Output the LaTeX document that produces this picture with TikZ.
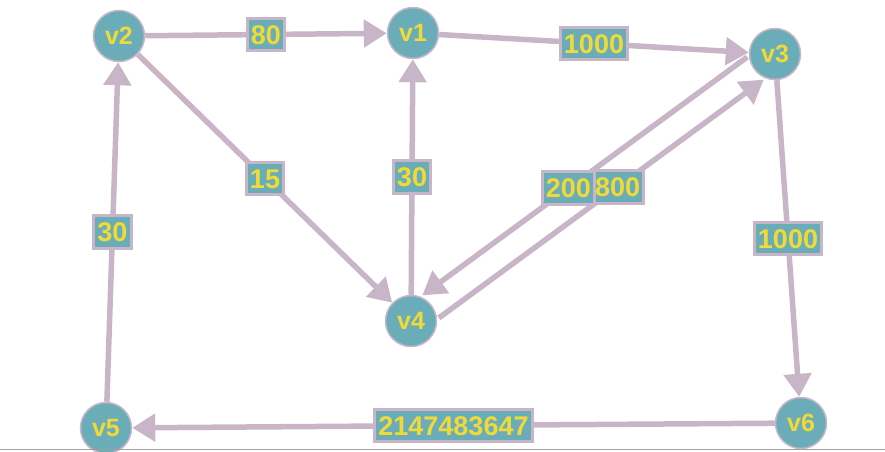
\documentclass[tikz,border=0pt]{standalone}
\usepackage{fontspec}
\setmainfont{Liberation Sans}
\usetikzlibrary{arrows.meta, calc}
\definecolor{cVert}{HTML}{6AADB9}
\definecolor{cVertB}{HTML}{C8B6C8}
\definecolor{cEdge}{HTML}{C8B6C8}
\definecolor{cText}{HTML}{F0DA38}
\definecolor{cFrame}{HTML}{A0A0A0}
\tikzset{
  vertex/.style ={circle, fill=cVert, draw=cVertB, line width=1.5pt, minimum size=51pt,
                  inner sep=0pt, text=cText, font=\fontsize{25}{25}\selectfont\bfseries},
  weight/.style ={rectangle, fill=cVert, draw=cEdge, line width=3pt, text=cText,
                  font=\fontsize{27}{27}\selectfont\bfseries, inner xsep=3.5pt, inner ysep=6.8pt,
                  text height=19.3pt, text depth=0pt},
  edge/.style   ={-{Triangle[length=23pt,width=27pt]}, line width=5.5pt, draw=cEdge}
}

\begin{document}
\begin{tikzpicture}[x=1pt, y=-1pt]
  \useasboundingbox (0,0) rectangle (885,451);

  % ====================== Vertices ======================
  \node[vertex] (v1) at (413,33)  {v1};
  \node[vertex] (v2) at (119,36)  {v2};
  \node[vertex] (v3) at (775,54)  {v3};
  \node[vertex] (v4) at (411,321) {v4};
  \node[vertex] (v5) at (106,428) {v5};
  \node[vertex] (v6) at (801,423) {v6};

  % ====================== Weighted edges ======================
  \draw[edge] (v2) -- node[weight] {80} (v1);
  \draw[edge] (v1) -- node[weight] {1000} (v3);
  \draw[edge] (v3) -- node[weight] {1000} (v6);
  \draw[edge] (v6) -- node[weight] {2147483647} (v5);
  \draw[edge] (v5) -- node[weight] {30} (v2);
  \draw[edge] (v2) -- node[weight] {15} (v4);
  \draw[edge] (v4) -- node[weight] {30} (v1);

  % two opposite edges between v3 and v4
  \draw[edge] ($(v4)!28pt!-30:(v3)$) -- node[weight, pos=0.55] {800} ($(v3)!28pt!30:(v4)$);
  \draw[edge] ($(v3)!28pt!-30:(v4)$) -- node[weight, pos=0.55] {200} ($(v4)!28pt!30:(v3)$);

  % bottom rule
  \draw[cFrame, line width=1.5pt] (0,449.5) -- (885,449.5);
\end{tikzpicture}
\end{document}
